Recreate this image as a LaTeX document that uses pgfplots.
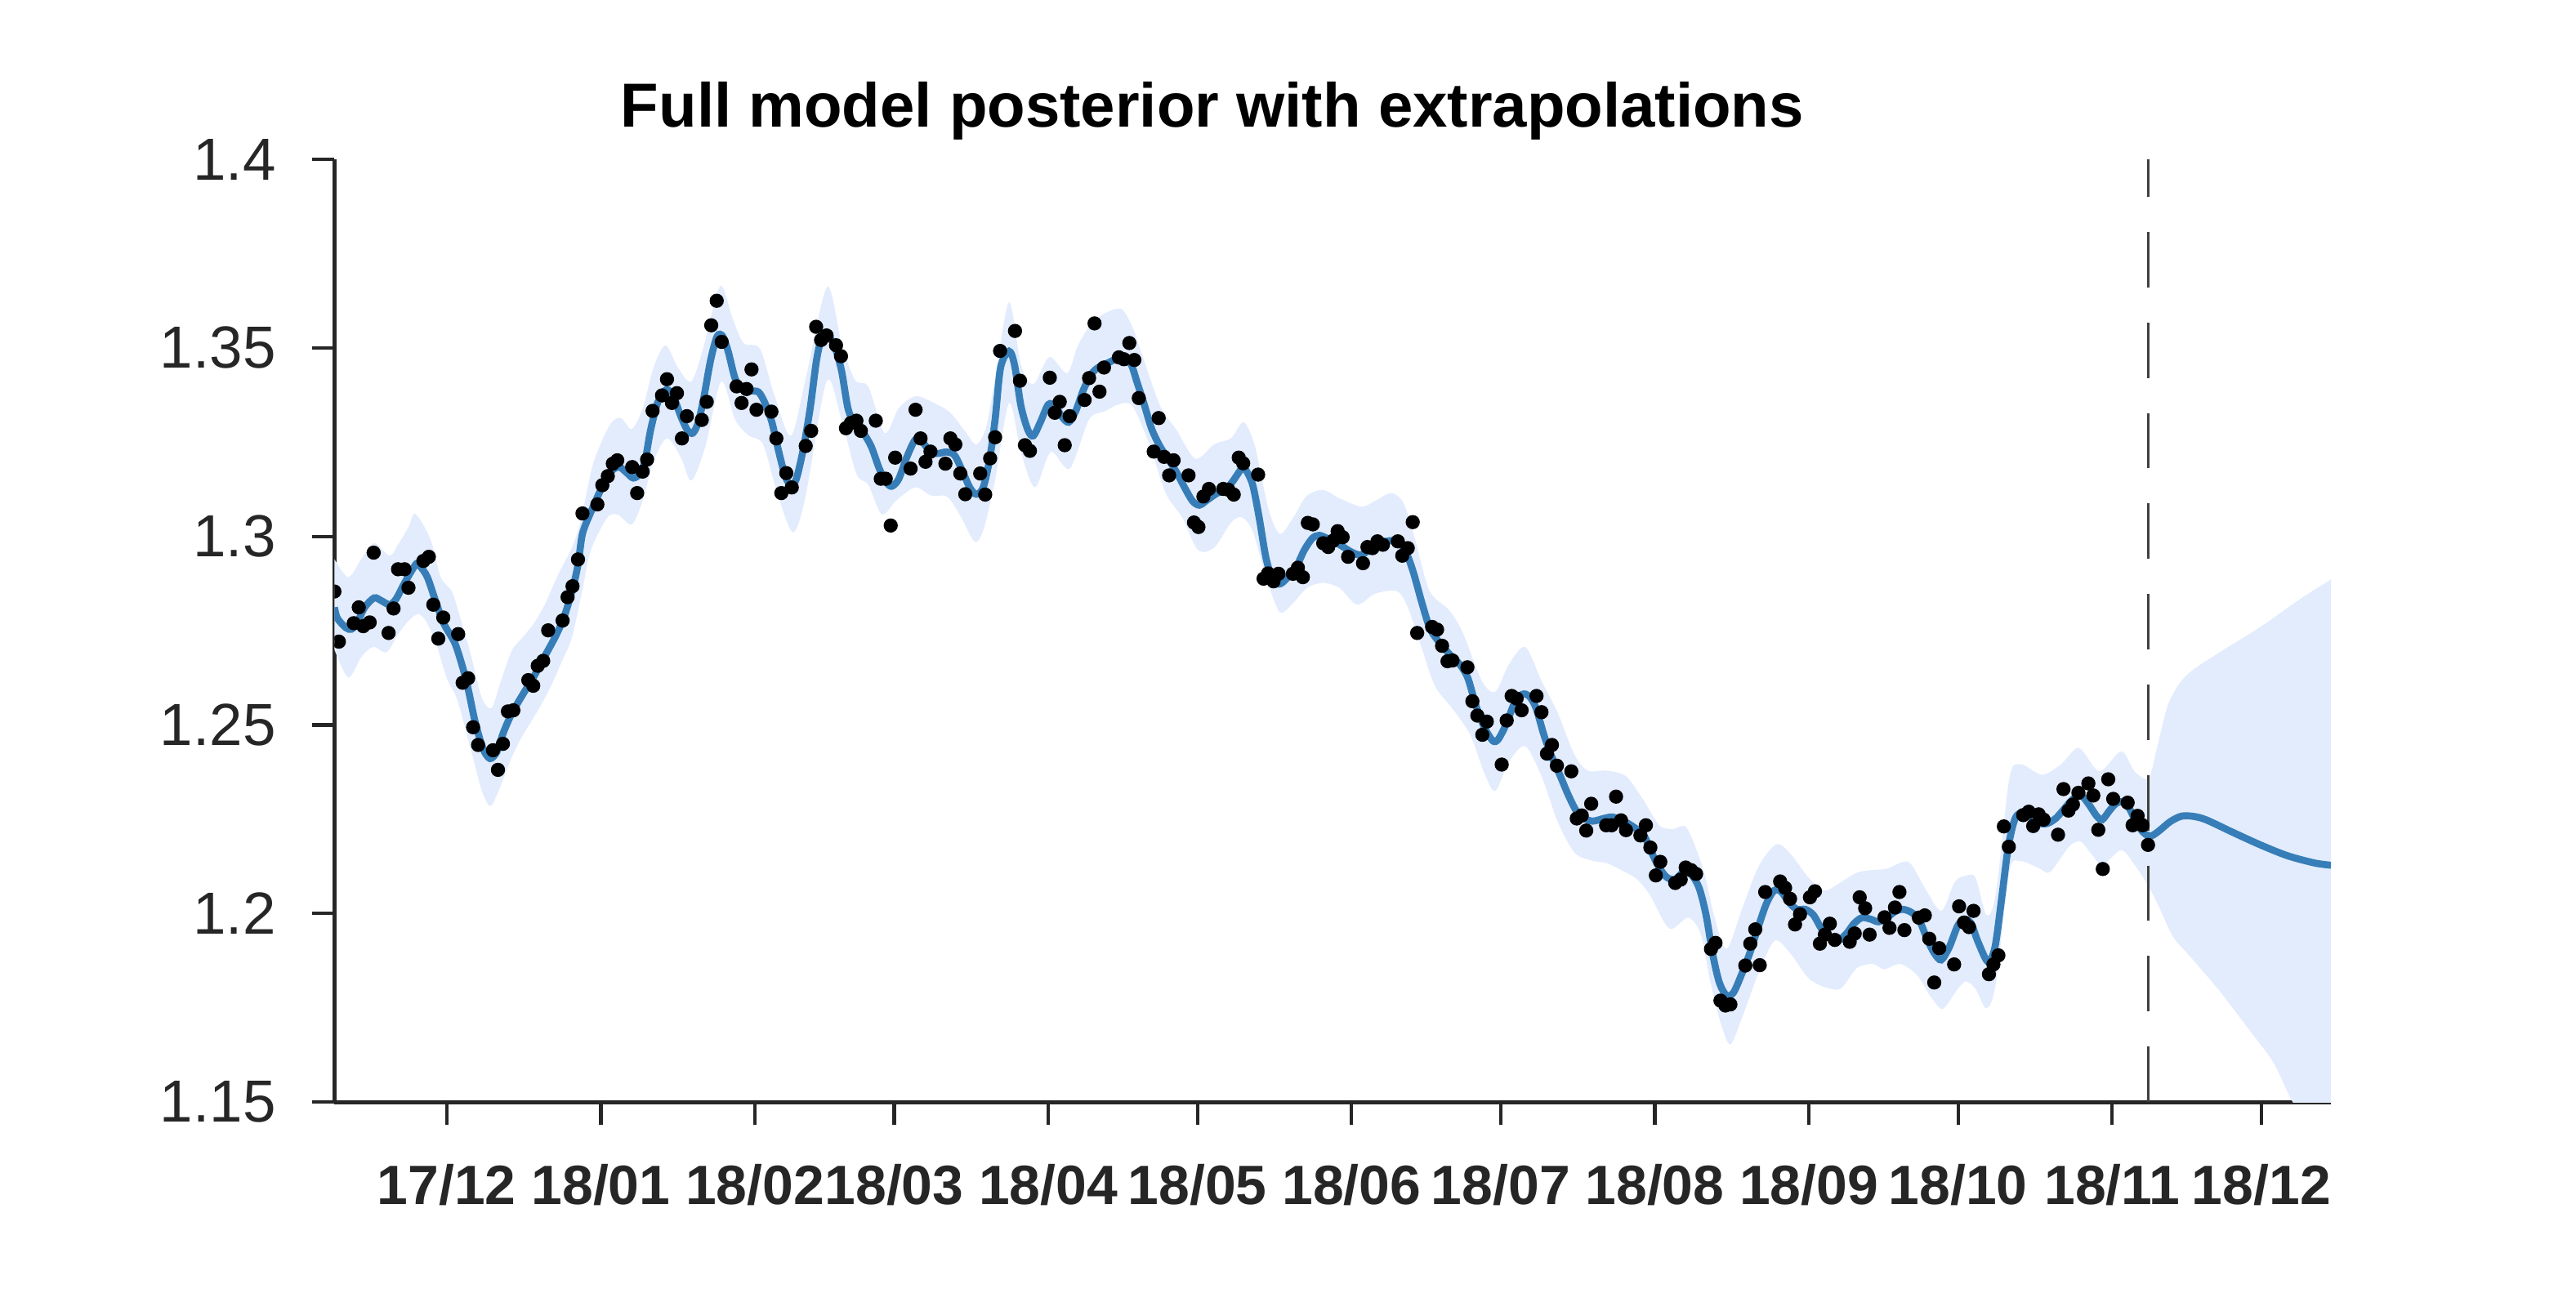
\documentclass[border=0pt]{standalone}
\usepackage{fontspec}
\setmainfont{Liberation Sans}
\usepackage{pgfplots}
\usepackage{pgfplotstable}
\pgfplotsset{compat=1.18}
\usepgfplotslibrary{fillbetween}
\definecolor{bandblue}{RGB}{227,236,253}
\definecolor{lineblue}{HTML}{377EB8}
\definecolor{axgray}{HTML}{262626}
\definecolor{dashgray}{HTML}{404040}

% x = days since 1 Dec 2017
\pgfplotstableread{
day val
-22.6 1.2854
-21.7 1.2721
-18.7 1.2770
-17.7 1.2812
-16.8 1.2762
-15.5 1.2772
-14.7 1.2957
-11.7 1.2744
-10.7 1.2809
-9.8 1.2913
-8.5 1.2913
-7.7 1.2864
-4.7 1.2935
-3.6 1.2946
-2.7 1.2819
-1.7 1.2729
-0.7 1.2785
2.3 1.2741
3.2 1.2612
4.3 1.2624
5.3 1.2494
6.3 1.2447
9.3 1.2433
10.3 1.2381
11.3 1.2450
12.3 1.2536
13.4 1.2539
16.4 1.2619
17.4 1.2604
18.3 1.2657
19.4 1.2670
20.4 1.2751
23.3 1.2777
24.3 1.2839
25.3 1.2868
26.4 1.2939
27.3 1.3061
30.3 1.3085
31.3 1.3136
32.4 1.3160
33.4 1.3193
34.3 1.3202
37.3 1.3184
38.3 1.3115
39.4 1.3172
40.3 1.3204
41.4 1.3333
43.3 1.3374
44.3 1.3417
45.3 1.3354
46.3 1.3380
47.3 1.3260
48.3 1.3319
51.3 1.3309
52.3 1.3357
53.2 1.3560
54.3 1.3625
55.3 1.3516
58.3 1.3398
59.3 1.3354
60.3 1.3391
61.3 1.3443
62.3 1.3336
65.3 1.3331
66.3 1.3260
67.3 1.3115
68.3 1.3168
69.4 1.3130
72.2 1.3240
73.3 1.3280
74.3 1.3556
75.3 1.3521
76.4 1.3533
78.3 1.3507
79.3 1.3478
80.3 1.3287
81.3 1.3301
82.4 1.3307
83.3 1.3280
86.3 1.3307
87.3 1.3153
88.3 1.3153
89.3 1.3029
90.2 1.3209
93.3 1.3180
94.3 1.3336
95.3 1.3260
96.3 1.3198
97.3 1.3225
100.3 1.3193
101.3 1.3260
102.3 1.3244
103.3 1.3167
104.3 1.3112
107.3 1.3167
108.3 1.3111
109.3 1.3207
110.3 1.3263
111.3 1.3492
114.3 1.3545
115.3 1.3413
116.3 1.3242
117.3 1.3227
121.3 1.3421
122.3 1.3328
123.3 1.3357
124.3 1.3242
125.3 1.3319
128.3 1.3362
129.2 1.3420
130.3 1.3565
131.3 1.3384
132.2 1.3448
135.2 1.3475
136.2 1.3470
137.3 1.3513
138.3 1.3468
139.2 1.3367
142.2 1.3225
143.2 1.3314
144.3 1.3211
145.3 1.3162
146.2 1.3202
149.2 1.3162
150.3 1.3037
151.2 1.3025
152.2 1.3106
153.3 1.3126
156.2 1.3126
157.2 1.3124
158.3 1.3111
159.3 1.3209
160.2 1.3194
163.2 1.3164
164.3 1.2888
165.2 1.2902
166.3 1.2881
167.3 1.2901
170.2 1.2901
171.2 1.2917
172.2 1.2892
173.2 1.3036
174.2 1.3032
176.3 1.2982
177.3 1.2972
178.3 1.2989
179.2 1.3014
180.2 1.2998
181.3 1.2946
184.3 1.2929
185.2 1.2972
186.2 1.2969
187.2 1.2987
188.3 1.2978
191.3 1.2987
192.2 1.2949
193.3 1.2969
194.3 1.3038
195.2 1.2744
198.2 1.2760
199.2 1.2753
200.2 1.2710
201.3 1.2669
202.3 1.2671
205.3 1.2653
206.3 1.2563
207.3 1.2525
208.3 1.2474
209.2 1.2509
212.2 1.2395
213.2 1.2512
214.2 1.2577
215.2 1.2570
216.2 1.2539
219.2 1.2577
220.2 1.2534
221.3 1.2424
222.3 1.2447
223.3 1.2392
226.2 1.2377
227.3 1.2252
228.3 1.2260
229.2 1.2220
230.2 1.2291
233.2 1.2234
234.3 1.2234
235.2 1.2310
236.2 1.2247
237.2 1.2221
240.1 1.2207
241.2 1.2234
242.1 1.2175
243.2 1.2101
244.1 1.2137
247.1 1.2081
248.2 1.2090
249.2 1.2122
250.3 1.2115
251.3 1.2105
254.3 1.1906
255.2 1.1922
256.2 1.1769
257.2 1.1756
258.2 1.1759
261.2 1.1862
262.2 1.1920
263.2 1.1958
264.1 1.1863
265.2 1.2057
268.2 1.2085
269.2 1.2068
270.2 1.2039
271.2 1.1971
272.2 1.1998
274.2 1.2043
275.2 1.2059
276.2 1.1920
277.2 1.1944
278.2 1.1973
279.2 1.1930
282.2 1.1925
283.2 1.1947
284.2 1.2043
285.3 1.2014
286.2 1.1944
289.2 1.1990
290.2 1.1962
291.3 1.2016
292.2 1.2057
293.2 1.1956
296.1 1.1989
297.3 1.1995
298.2 1.1933
299.2 1.1817
300.2 1.1908
303.2 1.1865
304.2 1.2019
305.2 1.1976
306.2 1.1964
307.1 1.2007
310.2 1.1839
311.1 1.1865
312.1 1.1889
313.2 1.2231
314.2 1.2177
317.1 1.2261
318.2 1.2270
319.1 1.2232
320.2 1.2263
321.2 1.2249
324.1 1.2209
325.2 1.2330
326.2 1.2273
327.1 1.2289
328.2 1.2320
330.2 1.2345
331.2 1.2313
332.2 1.2222
333.1 1.2118
334.2 1.2356
335.2 1.2304
338.1 1.2294
339.1 1.2234
340.1 1.2259
341.1 1.2234
342.2 1.2182
}\obs

\pgfplotstableread{
day val
-22.6 1.2812
-22.0 1.2783
-20.3 1.2758
-19.2 1.2754
-18.1 1.2769
-16.5 1.2812
-14.6 1.2837
-13.2 1.2830
-11.5 1.2819
-10.2 1.2834
-8.3 1.2881
-6.1 1.2928
-5.3 1.2920
-3.9 1.2892
-2.2 1.2827
-0.6 1.2769
1.6 1.2718
3.2 1.2653
4.3 1.2596
5.7 1.2509
7.3 1.2437
8.7 1.2411
10.1 1.2429
11.4 1.2480
13.1 1.2531
15.3 1.2581
17.5 1.2628
19.7 1.2682
21.8 1.2733
23.5 1.2783
25.2 1.2855
26.4 1.2925
27.3 1.3007
29.0 1.3065
31.2 1.3130
33.1 1.3173
34.7 1.3184
36.1 1.3170
37.5 1.3155
38.8 1.3166
39.9 1.3202
41.0 1.3282
42.4 1.3354
43.8 1.3386
44.6 1.3388
45.7 1.3368
47.1 1.3318
48.4 1.3282
49.5 1.3274
50.6 1.3303
51.7 1.3368
53.1 1.3469
54.4 1.3531
55.5 1.3531
56.6 1.3491
58.0 1.3419
59.4 1.3390
61.0 1.3386
62.7 1.3383
64.0 1.3354
65.4 1.3303
66.8 1.3224
68.1 1.3159
69.2 1.3137
70.3 1.3152
71.7 1.3231
73.1 1.3340
74.4 1.3469
75.5 1.3531
76.6 1.3534
78.0 1.3505
79.4 1.3440
80.7 1.3340
82.1 1.3296
83.8 1.3274
85.4 1.3238
87.0 1.3180
88.4 1.3144
89.5 1.3133
90.9 1.3152
92.5 1.3209
94.2 1.3256
95.5 1.3253
96.9 1.3231
98.6 1.3220
100.5 1.3224
102.1 1.3216
103.5 1.3180
105.2 1.3130
106.5 1.3112
107.9 1.3130
109.2 1.3205
110.3 1.3310
111.4 1.3448
113.1 1.3491
114.2 1.3455
115.5 1.3346
116.9 1.3282
118.0 1.3267
119.4 1.3303
121.0 1.3350
122.4 1.3346
123.7 1.3318
125.1 1.3303
126.5 1.3332
128.1 1.3390
129.8 1.3433
131.4 1.3451
133.3 1.3462
135.0 1.3473
136.4 1.3469
137.7 1.3455
138.8 1.3411
140.2 1.3354
141.8 1.3285
143.5 1.3238
145.1 1.3206
146.8 1.3170
148.4 1.3130
150.0 1.3094
151.4 1.3083
153.0 1.3097
155.0 1.3115
156.6 1.3123
158.2 1.3148
159.9 1.3180
160.7 1.3177
162.1 1.3137
163.4 1.3051
164.8 1.2942
166.2 1.2884
167.6 1.2874
169.2 1.2892
170.9 1.2920
172.5 1.2964
174.1 1.2995
175.5 1.3003
177.4 1.2993
179.6 1.2978
181.8 1.2960
183.7 1.2951
185.7 1.2964
187.9 1.2982
190.0 1.2989
191.7 1.2982
193.0 1.2957
194.4 1.2906
196.1 1.2826
197.7 1.2758
199.3 1.2725
201.6 1.2689
203.8 1.2660
205.4 1.2624
207.0 1.2552
208.7 1.2494
210.4 1.2458
211.5 1.2462
213.1 1.2502
214.7 1.2556
216.3 1.2581
217.7 1.2577
219.1 1.2545
220.7 1.2473
222.3 1.2415
224.0 1.2364
225.6 1.2314
227.3 1.2270
228.9 1.2252
230.5 1.2245
232.7 1.2252
234.4 1.2256
236.0 1.2249
237.7 1.2238
239.3 1.2224
240.9 1.2205
242.1 1.2169
243.7 1.2126
245.3 1.2097
247.0 1.2090
248.6 1.2108
250.3 1.2104
251.9 1.2068
253.3 1.1996
254.7 1.1888
256.0 1.1816
257.4 1.1783
258.8 1.1790
260.4 1.1837
262.1 1.1895
263.7 1.1960
265.4 1.2025
267.0 1.2061
268.4 1.2058
270.0 1.2029
271.6 1.2011
273.3 1.2011
274.9 1.1996
276.5 1.1960
278.2 1.1935
279.8 1.1928
281.5 1.1946
283.1 1.1974
284.7 1.1989
286.4 1.1985
288.0 1.1978
289.7 1.1989
291.3 1.2005
292.9 1.2011
294.6 1.2003
296.2 1.1982
297.8 1.1931
299.2 1.1895
300.6 1.1877
302.2 1.1910
303.9 1.1967
305.2 1.1985
306.6 1.1974
308.0 1.1925
310.0 1.1872
311.4 1.1910
312.7 1.2034
314.1 1.2177
315.5 1.2253
317.1 1.2268
318.8 1.2253
320.4 1.2239
322.0 1.2239
323.7 1.2253
325.3 1.2277
326.9 1.2301
328.6 1.2315
330.2 1.2291
331.9 1.2258
333.0 1.2249
334.4 1.2272
335.7 1.2291
337.1 1.2296
338.5 1.2277
340.1 1.2234
341.7 1.2210
342.9 1.2206
344.5 1.2220
346.7 1.2244
348.9 1.2258
351.1 1.2258
353.8 1.2249
359.3 1.2215
364.8 1.2182
370.3 1.2153
375.7 1.2134
379.0 1.2128
}\postmean

\pgfplotstableread{
day val
-22.6 1.2940
-19.8 1.2892
-17.1 1.2942
-14.6 1.2982
-11.5 1.2949
-9.8 1.2978
-7.7 1.3025
-6.3 1.3060
-3.3 1.2993
-1.2 1.2892
1.0 1.2855
2.6 1.2790
4.8 1.2689
7.0 1.2574
9.0 1.2545
10.9 1.2617
13.1 1.2697
15.3 1.2733
17.5 1.2769
19.7 1.2819
22.4 1.2899
25.2 1.2971
27.0 1.3045
29.5 1.3195
32.8 1.3296
35.0 1.3314
37.2 1.3285
39.4 1.3339
41.6 1.3448
44.0 1.3507
46.5 1.3448
49.2 1.3411
51.7 1.3505
55.0 1.3664
57.5 1.3578
59.7 1.3513
63.0 1.3498
65.7 1.3383
69.2 1.3267
72.2 1.3419
76.5 1.3662
79.4 1.3513
82.1 1.3415
84.8 1.3397
88.1 1.3274
90.9 1.3340
94.4 1.3372
98.6 1.3350
101.3 1.3328
104.1 1.3282
106.5 1.3244
108.5 1.3290
110.3 1.3420
113.1 1.3621
115.5 1.3455
118.0 1.3404
121.2 1.3476
124.8 1.3433
126.9 1.3505
129.6 1.3563
132.4 1.3592
135.7 1.3603
137.9 1.3556
140.2 1.3469
143.5 1.3346
146.8 1.3282
150.6 1.3206
154.4 1.3245
157.7 1.3260
160.3 1.3303
162.6 1.3238
165.3 1.3072
167.6 1.3007
170.3 1.3051
173.0 1.3108
176.3 1.3123
179.6 1.3101
184.0 1.3079
186.7 1.3094
190.0 1.3115
192.5 1.3087
194.9 1.2985
197.7 1.2855
201.6 1.2805
204.3 1.2747
208.2 1.2617
210.9 1.2588
213.6 1.2660
216.9 1.2707
220.2 1.2617
223.5 1.2531
226.8 1.2422
229.5 1.2379
233.3 1.2379
237.2 1.2364
240.5 1.2305
243.9 1.2234
246.7 1.2224
249.4 1.2227
252.7 1.2119
254.9 1.1996
257.4 1.1906
260.7 1.2018
263.9 1.2126
267.5 1.2184
270.5 1.2155
273.8 1.2097
277.1 1.2061
280.4 1.2083
283.6 1.2108
286.4 1.2115
289.7 1.2119
294.0 1.2137
297.3 1.2068
300.6 1.2007
303.3 1.2083
305.5 1.2100
307.5 1.2095
309.7 1.1996
311.6 1.2053
314.3 1.2358
316.5 1.2396
320.9 1.2368
324.7 1.2396
328.3 1.2439
332.4 1.2377
336.8 1.2430
339.5 1.2377
342.3 1.2358
343.9 1.2434
346.1 1.2549
348.3 1.2606
351.0 1.2644
356.5 1.2692
364.7 1.2759
372.9 1.2835
379.0 1.2886
}\bandup

\pgfplotstableread{
day val
-22.6 1.2700
-19.8 1.2626
-17.1 1.2682
-14.8 1.2707
-12.1 1.2693
-9.8 1.2740
-7.7 1.2776
-5.8 1.2794
-4.2 1.2776
-2.2 1.2718
0.0 1.2624
2.1 1.2567
4.8 1.2437
7.0 1.2328
8.7 1.2285
10.3 1.2321
13.1 1.2415
15.3 1.2473
18.0 1.2531
20.7 1.2596
22.9 1.2661
25.2 1.2733
27.3 1.2860
29.0 1.2964
32.3 1.3050
34.5 1.3057
37.2 1.3032
39.4 1.3094
41.6 1.3200
44.3 1.3260
47.1 1.3209
49.2 1.3148
52.0 1.3238
55.2 1.3411
58.0 1.3310
60.8 1.3267
63.6 1.3245
66.3 1.3123
69.6 1.3011
72.2 1.3108
76.4 1.3411
79.4 1.3310
82.4 1.3166
84.8 1.3137
87.5 1.3058
90.3 1.3094
94.2 1.3130
97.5 1.3108
100.7 1.3105
103.5 1.3050
106.2 1.2986
108.0 1.3020
110.3 1.3150
113.1 1.3354
115.5 1.3224
118.3 1.3130
121.5 1.3224
125.3 1.3180
129.2 1.3310
132.4 1.3332
135.1 1.3350
137.9 1.3346
141.3 1.3245
144.6 1.3115
147.9 1.3051
151.1 1.2964
154.4 1.2971
157.7 1.3036
159.9 1.3051
162.1 1.3014
164.8 1.2892
167.5 1.2800
170.0 1.2820
173.0 1.2863
176.3 1.2877
179.6 1.2863
183.1 1.2819
186.7 1.2848
191.1 1.2855
193.3 1.2812
196.1 1.2704
198.8 1.2603
202.6 1.2538
205.9 1.2473
208.7 1.2372
210.9 1.2325
213.6 1.2401
216.9 1.2444
220.2 1.2364
223.5 1.2242
226.8 1.2162
230.1 1.2141
233.4 1.2133
236.7 1.2112
239.5 1.2090
242.1 1.2047
245.9 1.1960
249.7 1.1989
252.2 1.1946
254.1 1.1823
256.3 1.1707
258.2 1.1653
260.7 1.1729
263.9 1.1844
267.1 1.1928
270.2 1.1895
273.8 1.1830
277.1 1.1805
280.4 1.1801
283.6 1.1855
286.9 1.1866
289.1 1.1852
292.4 1.1866
295.7 1.1837
298.5 1.1779
300.9 1.1747
303.6 1.1794
305.5 1.1820
307.5 1.1800
309.7 1.1748
311.6 1.1815
314.3 1.2110
316.5 1.2139
320.3 1.2120
322.5 1.2110
326.3 1.2177
328.6 1.2191
330.8 1.2158
333.0 1.2129
336.8 1.2168
339.5 1.2129
342.3 1.2072
344.5 1.2015
347.2 1.1939
351.0 1.1881
356.5 1.1796
362.0 1.1701
367.4 1.1605
371.3 1.1500
379.0 1.1330
}\banddown

\begin{document}
\begin{tikzpicture}
\begin{axis}[
  at={(0,0)}, anchor=south west,
  scale only axis, width=12.401cm, height=5.856cm,
  xmin=-22.6, xmax=379, ymin=1.15, ymax=1.4,
  axis x line*=bottom, axis y line*=left,
  axis line style={-, color=axgray, line width=0.7pt},
  tick align=outside, major tick length=0.14cm,
  tick style={color=axgray, line width=0.6pt},
  xtick={0,31,62,90,121,151,182,212,243,274,304,335,365},
  xticklabels={17/12,18/01,18/02,18/03,18/04,18/05,18/06,18/07,18/08,18/09,18/10,18/11,18/12},
  ytick={1.15,1.2,1.25,1.3,1.35,1.4},
  yticklabels={1.15,1.2,1.25,1.3,1.35,1.4},
  xticklabel style={font=\fontsize{9.8}{11}\selectfont\bfseries, color=axgray, yshift=-0.12cm},
  yticklabel style={font=\fontsize{10.5}{12}\selectfont, color=axgray, xshift=-0.1cm},
  every axis title shift=0pt,
  title={Full model posterior with extrapolations},
  title style={font=\fontsize{11}{13}\selectfont\bfseries, at={(0.4397,1)}, anchor=base, yshift=0.203cm},
]
\addplot[name path=up, draw=none, smooth] table[x=day, y=val] {\bandup};
\addplot[name path=down, draw=none, smooth] table[x=day, y=val] {\banddown};
\addplot[fill=bandblue, draw=none] fill between[of=up and down];
\addplot[dashgray, line width=0.4pt, dash pattern=on 9.8pt off 6.2pt] coordinates {(342.2,1.15) (342.2,1.4)};
\addplot[lineblue, line width=1.25pt, smooth] table[x=day, y=val] {\postmean};
\addplot[only marks, mark=*, mark size=1.05pt, black, clip mode=individual] table[x=day, y=val] {\obs};
\end{axis}
\pgfresetboundingbox
\path[use as bounding box] (-2.077cm,-1.157cm) rectangle (13.923cm,6.846cm);
\end{tikzpicture}
\end{document}
